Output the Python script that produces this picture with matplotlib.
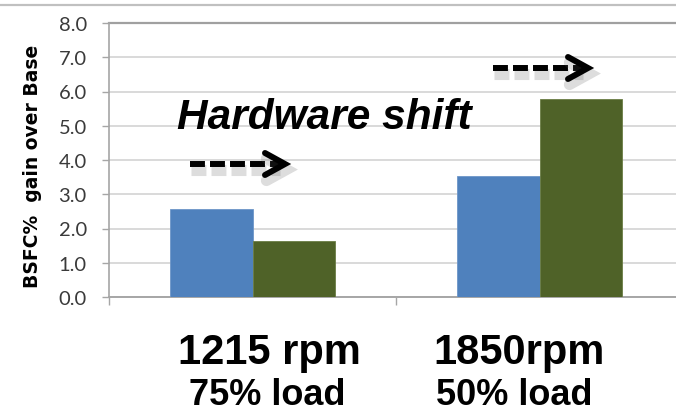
import matplotlib.pyplot as plt
import matplotlib.patheffects as pe
import numpy as np

# BSFC gain for the two operating points, before / after the hardware shift
groups = ['1215 rpm\n75% load', '1850rpm\n50% load']
base_shift = [2.57, 3.53]
hw_shift = [1.63, 5.78]
yticks = [0, 1, 2, 3, 4, 5, 6, 7, 8]

W, H = 676, 414
fig = plt.figure(figsize=(W / 100, H / 100), dpi=100)


def px(x, y):
    # pixel position (from top-left) -> figure fraction
    return x / W, 1 - y / H


left, top, bottom, right = 109, 24, 298, 683
ax = fig.add_axes([left / W, 1 - bottom / H, (right - left) / W, (bottom - top) / H])

x = np.arange(len(groups))
w = 0.286
ax.bar(x - w / 2, base_shift, w, color='#4F81BD', edgecolor='#6d96c8', linewidth=0.6, zorder=3)
ax.bar(x + w / 2, hw_shift, w, color='#4F6228', edgecolor='#6b7d45', linewidth=0.6, zorder=3)

ax.set_xlim(-0.5, 1.5)
ax.set_ylim(0, 8)
ax.set_yticks(yticks)
ax.set_yticklabels(['%.1f' % v for v in yticks], fontfamily='Lato', fontsize=14.5, color='#3a3a3a')
ax.set_xticks([-0.5, 0.5, 1.5])
ax.set_xticklabels([])
ax.tick_params(axis='y', length=5, width=1, color='#a6a6a6', pad=11)
ax.tick_params(axis='x', length=6, width=1, color='#a6a6a6')
ax.grid(axis='y', color='#d9d9d9', linewidth=1.4, zorder=0)
for s in ['top', 'right']:
    ax.spines[s].set_visible(False)
ax.spines['left'].set_color('#a6a6a6')
ax.spines['bottom'].set_color('#a6a6a6')
ax.spines['left'].set_linewidth(1.2)
ax.spines['bottom'].set_linewidth(1.4)
# darker line on the 8.0 gridline
ax.axhline(8, color='#a0a0a0', linewidth=1.6, zorder=2, clip_on=False)

# frame line along the top edge
fig.add_artist(plt.Line2D([0, 1], [1 - 6 / H] * 2, transform=fig.transFigure,
                          color='#c0c0c0', linewidth=1.6))

fig.text(*px(33, 166), 'BSFC%  gain over Base', rotation=90, ha='center', va='center',
         fontfamily='DejaVu Sans', fontweight='bold', fontsize=13.5, color='black')

fig.text(*px(177, 129), 'Hardware shift', ha='left', va='baseline',
         fontfamily='Liberation Sans', fontweight='bold', fontstyle='italic', fontsize=30.5)

# group captions under the axis
cap_x = [(269, 267), (519, 514)]
for (cx1, cx2), label in zip(cap_x, groups):
    l1, l2 = label.split('\n')
    fig.text(*px(cx1, 364), l1, ha='center', va='baseline', fontfamily='Liberation Sans',
             fontweight='bold', fontsize=30)
    fig.text(*px(cx2, 405), l2, ha='center', va='baseline', fontfamily='Liberation Sans',
             fontweight='bold', fontsize=26)

shadow = [pe.SimpleLineShadow(offset=(1, -4), shadow_color='#555555', alpha=0.2,
                              linewidth=8), pe.Normal()]


def dashed_arrow(x0, x1, y):
    xa, ya = px(x0, y)
    xb, _ = px(x1 - 6, y)
    line = plt.Line2D([xa, xb], [ya, ya], transform=fig.transFigure, color='black',
                      linewidth=4.3, linestyle=(0, (2.5, 0.85)), solid_capstyle='butt',
                      dash_capstyle='butt')
    line.set_path_effects(shadow)
    fig.add_artist(line)
    hx = [x1 - 20, x1, x1 - 20]
    hy = [y - 11, y, y + 11]
    head = plt.Line2D([px(a, 0)[0] for a in hx], [px(0, b)[1] for b in hy],
                      transform=fig.transFigure, color='black', linewidth=4.3,
                      solid_joinstyle='miter', solid_capstyle='round')
    head.set_path_effects(shadow)
    fig.add_artist(head)


dashed_arrow(190, 285, 165)
dashed_arrow(493, 588, 69)

fig.savefig('out.png', dpi=100)
